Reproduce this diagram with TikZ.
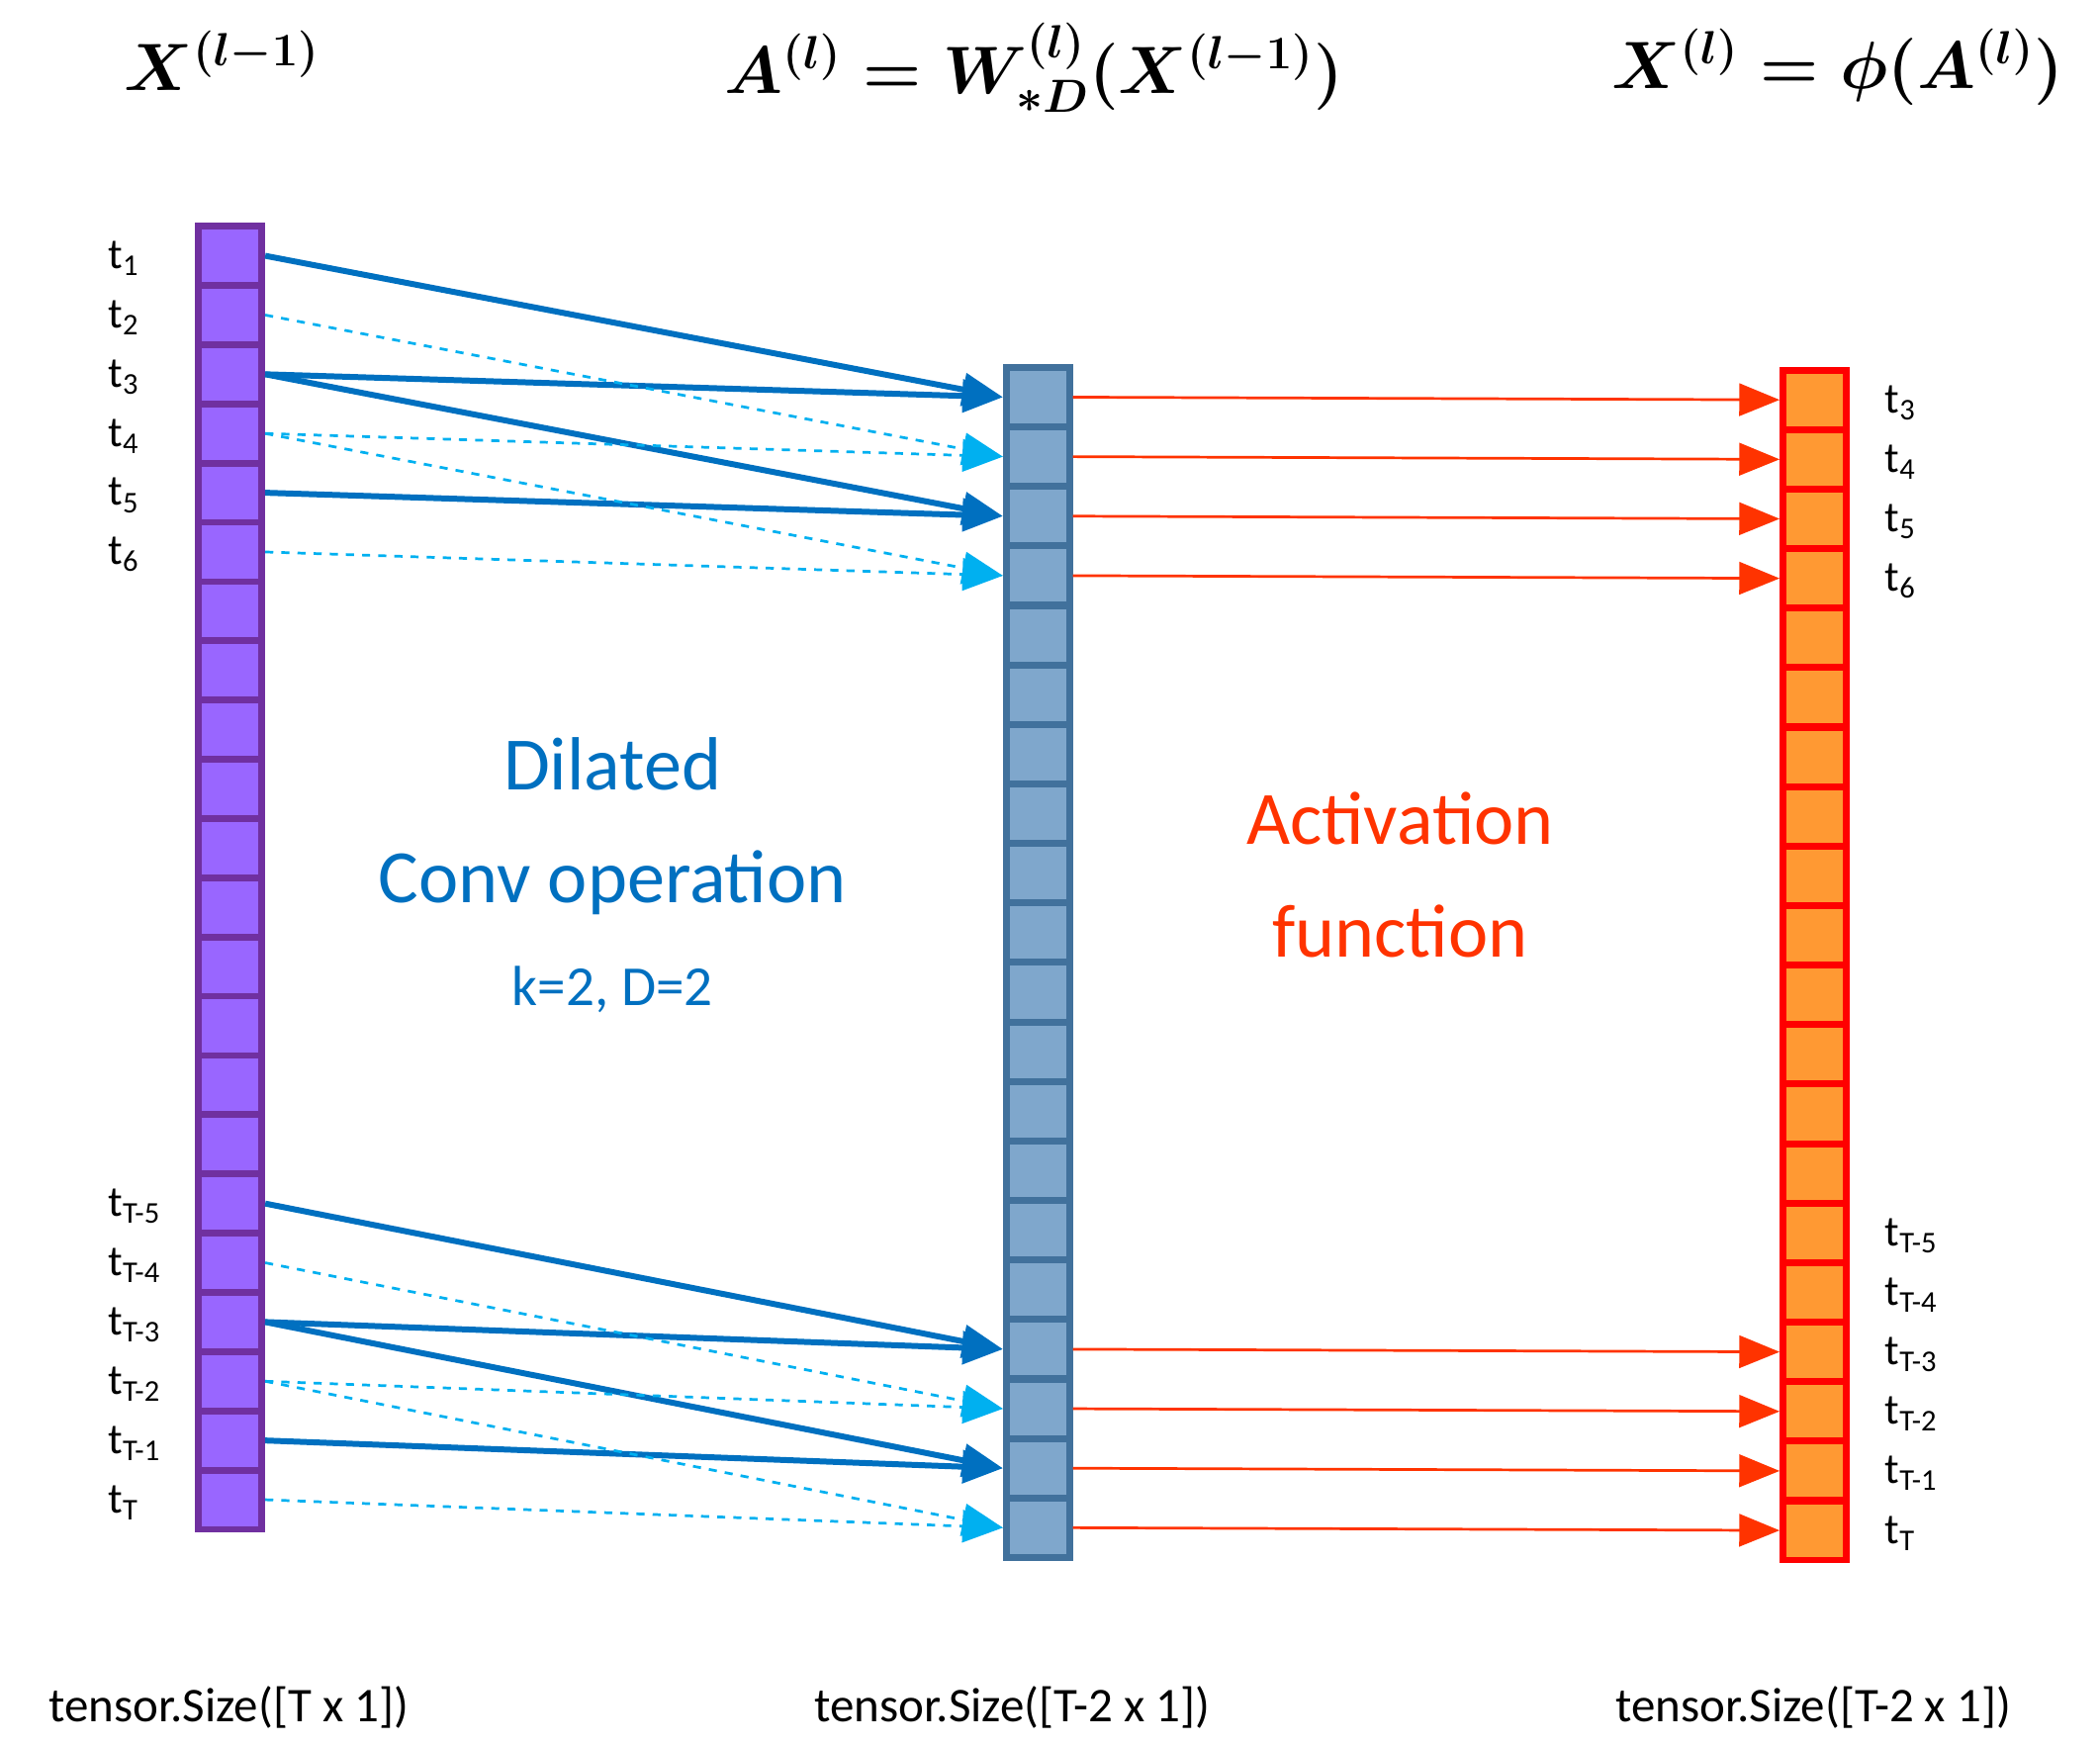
\documentclass[tikz,border=0pt]{standalone}
\usepackage{amsmath}
\usepackage{fontspec}
\setmainfont{Carlito}
\usetikzlibrary{arrows.meta}
\definecolor{inpurple}{HTML}{9966FF}
\definecolor{inborder}{HTML}{7030A0}
\definecolor{midfill}{HTML}{7FA7CC}
\definecolor{midborder}{HTML}{41719C}
\definecolor{outfill}{HTML}{FF9933}
\definecolor{convblue}{HTML}{0070C0}
\definecolor{dashblue}{HTML}{00B0F0}
\definecolor{actred}{HTML}{FF3300}
\newcommand{\tlab}[1]{\fontsize{16}{16}\selectfont t\textsubscript{#1}}
\begin{document}
\begin{tikzpicture}
  [x=0.5pt,y=-0.5pt,
   cell/.style={draw,line width=2.5pt,minimum width=23.5pt,minimum height=22pt,inner sep=0pt},
   incell/.style={cell,fill=inpurple,draw=inborder},
   midcell/.style={cell,fill=midfill,draw=midborder},
   outcell/.style={cell,fill=outfill,draw=red},
   solidarr/.style={-{Triangle[length=15pt,width=12pt]},convblue,line width=2.2pt},
   dasharr/.style={-{Triangle[length=15pt,width=12pt]},dashblue,dashed,line width=1pt},
   actarr/.style={-{Triangle[length=15pt,width=12pt]},actred,line width=1pt},
   tl/.style={anchor=west,inner sep=0pt}]
  \useasboundingbox (0,0) rectangle (1560,1296);

  % columns
  \foreach \i in {0,...,21}
    \node[incell] (L\i) at (171,{190+44*\i}) {};
  \foreach \i in {0,...,19}
    \node[midcell] (M\i) at (771,{295+44.2*\i}) {};
  \foreach \i in {0,...,19}
    \node[outcell] (R\i) at (1348,{297+44.2*\i}) {};

  % time labels
  \foreach \i/\t in {0/1,1/2,2/3,3/4,4/5,5/6,16/T-5,17/T-4,18/T-3,19/T-2,20/T-1,21/T}
    \node[tl] (lt\i) at (80,{192+44*\i}) {\tlab{\t}};
  \foreach \i/\t in {0/3,1/4,2/5,3/6,14/T-5,15/T-4,16/T-3,17/T-2,18/T-1,19/T}
    \node[tl] (rt\i) at (1400,{299+44.2*\i}) {\tlab{\t}};

  % dilated convolution
  \foreach \a/\b in {0/0,2/0,2/2,4/2,16/16,18/16,18/18,20/18}
    \draw[solidarr] (L\a.east) -- (M\b.west);
  \foreach \a/\b in {1/1,3/1,3/3,5/3,17/17,19/17,19/19,21/19}
    \draw[dasharr] (L\a.east) -- (M\b.west);

  % activation
  \foreach \i in {0,1,2,3,16,17,18,19}
    \draw[actarr] (M\i.east) -- (R\i.west);

  % titles
  \node (tin) at (165,45) {\fontsize{25}{25}\selectfont$\boldsymbol{X^{(l-1)}}$};
  \node (tmid) at (768,50) {\fontsize{25}{25}\selectfont$\boldsymbol{A^{(l)}=W^{(l)}_{*D}(X^{(l-1)})}$};
  \node (tout) at (1365,50) {\fontsize{25}{25}\selectfont$\boldsymbol{X^{(l)}=\phi(A^{(l)})}$};

  \node[convblue,align=center,font=\fontsize{28}{42}\selectfont] (conv) at (455,650)
    {Dilated\\Conv operation\\[-4pt]{\fontsize{21}{21}\selectfont k=2, D=2}};
  \node[actred,align=center,font=\fontsize{28}{42}\selectfont] (act) at (1040,650)
    {Activation\\function};

  \node (sin) at (170,1268) {\fontsize{18}{18}\selectfont tensor.Size([T x 1])};
  \node (smid) at (752,1268) {\fontsize{18}{18}\selectfont tensor.Size([T-2 x 1])};
  \node (sout) at (1347,1268) {\fontsize{18}{18}\selectfont tensor.Size([T-2 x 1])};
\end{tikzpicture}
\end{document}
